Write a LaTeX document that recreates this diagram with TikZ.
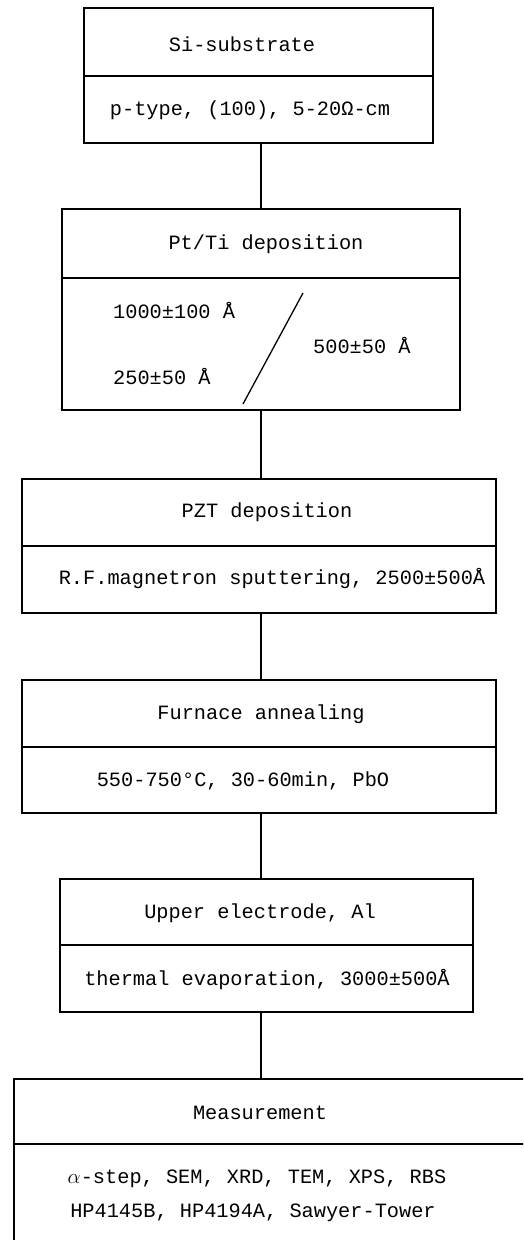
\documentclass[tikz,border=0pt]{standalone}
\usepackage{fontspec}
\newfontfamily\flowfont{Liberation Mono}
\usetikzlibrary{calc}
\tikzset{
  cell/.style args={#1x#2}{draw, line width=1.3pt, inner sep=0pt,
    minimum width=#1, minimum height=#2},
  txt/.style={font=\flowfont\fontsize{20.3}{24}\selectfont, inner sep=0pt},
  link/.style={line width=1.3pt}
}

\begin{document}
\begin{tikzpicture}[x=1pt, y=-1pt]
  \useasboundingbox (0,0) rectangle (523,1240);
  \clip (0,0) rectangle (523,1240);
  \coordinate (spine) at (261,0);

  % substrate
  \node[cell=349x68] (subtop) at (258.5,42) {};
  \node[cell=349x67] (subbot) at (258.5,109.5) {};
  \node[txt] (subname) at (242,44) {Si-substrate};
  \node[txt] (subspec) at (250,110) {p-type, (100), 5-20Ω-cm};

  % electrode stack
  \node[cell=398x69] (pttop) at (261,243.5) {};
  \node[cell=398x132] (ptbot) at (261,344) {};
  \node[txt] (ptname) at (266,244) {Pt/Ti deposition};
  \node[txt, anchor=west] (ptpt) at (113,311) {1000±100 Å};
  \node[txt, anchor=west] (ptti) at (113,377) {250±50 Å};
  \node[txt, anchor=west] (ptox) at (313,346) {500±50 Å};
  \draw[link] (303,293) -- (243,404);

  % PZT film
  \node[cell=474x67] (pzttop) at (259,512.5) {};
  \node[cell=474x67] (pztbot) at (259,579.5) {};
  \node[txt] (pztname) at (267,512) {PZT deposition};
  \node[txt] (pztspec) at (272,579) {R.F.magnetron sputtering, 2500±500Å};

  % anneal
  \node[cell=474x67] (annltop) at (259,713.5) {};
  \node[cell=474x66] (annlbot) at (259,780) {};
  \node[txt] (annlname) at (261,714) {Furnace annealing};
  \node[txt] (annlspec) at (243,781) {550-750°C, 30-60min, PbO};

  % top contact
  \node[cell=413x66] (altop) at (266.5,912) {};
  \node[cell=413x67] (albot) at (266.5,978.5) {};
  \node[txt] (alname) at (260,913) {Upper electrode, Al};
  \node[txt] (alspec) at (267,980) {thermal evaporation, 3000±500Å};

  % characterisation
  \node[cell=526x65] (meastop) at (277,1111.5) {};
  \node[cell=526x106] (measbot) at (277,1197) {};
  \node[txt] (measname) at (260,1113) {Measurement};
  \node[txt] (measa) at (257,1179) {$\alpha$-step, SEM, XRD, TEM, XPS, RBS};
  \node[txt] (measb) at (253,1213) {HP4145B, HP4194A, Sawyer-Tower};

  % vertical links
  \draw[link] (subbot.south -| spine) -- (pttop.north -| spine);
  \draw[link] (ptbot.south -| spine) -- (pzttop.north -| spine);
  \draw[link] (pztbot.south -| spine) -- (annltop.north -| spine);
  \draw[link] (annlbot.south -| spine) -- (altop.north -| spine);
  \draw[link] (albot.south -| spine) -- (meastop.north -| spine);
\end{tikzpicture}
\end{document}
